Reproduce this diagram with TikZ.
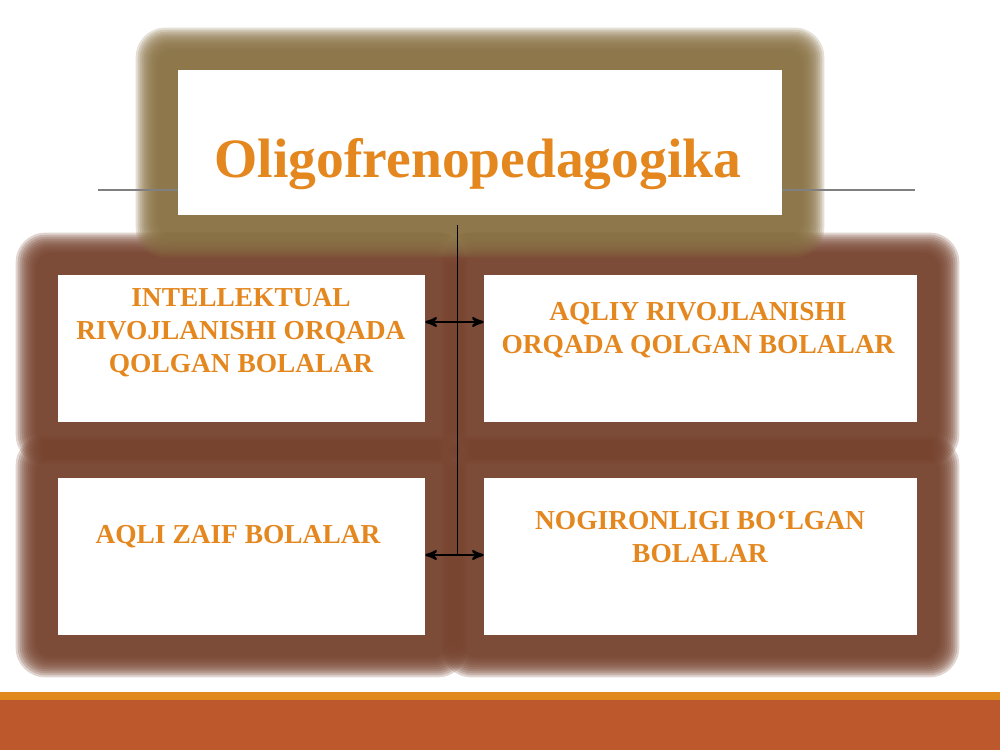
\documentclass[tikz,border=0pt]{standalone}
\usepackage{fontspec}
\setmainfont{Liberation Serif}
\usetikzlibrary{positioning, arrows, calc}

\definecolor{txtorange}{HTML}{E3871E}
\definecolor{glowolive}{HTML}{887042}
\definecolor{glowbrown}{HTML}{74402B}
\definecolor{barorange}{HTML}{E08A1E}
\definecolor{barrust}{HTML}{BD582D}
\pgfdeclarelayer{bg}
\pgfsetlayers{bg,main}

\begin{document}
\begin{tikzpicture}[x=0.02cm,y=-0.02cm,>=stealth',
    box/.style={rectangle,fill=white,inner sep=0pt},
    lbl/.style={inner sep=0pt,align=center,text=txtorange,
      font=\bfseries\fontsize{15.6}{18.7}\selectfont},
    title/.style={inner sep=0pt,text=txtorange,
      font=\bfseries\fontsize{31.6}{38}\selectfont}]

  \useasboundingbox (0,0) rectangle (1000,750);

  \node[box,minimum width=12.08cm,minimum height=2.9cm] (t) at (480,142.5) {};
  \node[box,minimum width=7.34cm,minimum height=2.94cm] (b_1) at (241.5,348.5) {};
  \node[box,minimum width=8.66cm,minimum height=2.94cm] (b_2) at (700.5,348.5) {};
  \node[box,minimum width=7.34cm,minimum height=3.14cm] (b_3) at (241.5,556.5) {};
  \node[box,minimum width=8.66cm,minimum height=3.14cm] (b_4) at (700.5,556.5) {};

  \node[title,anchor=base] (t_txt) at (478,177) {Oligofrenopedagogika};
  \node[lbl] (b_1_txt) at (241,333) {INTELLEKTUAL\\RIVOJLANISHI ORQADA\\QOLGAN BOLALAR};
  \node[lbl] (b_2_txt) at (698,330) {AQLIY RIVOJLANISHI\\ORQADA QOLGAN BOLALAR};
  \node[lbl] (b_3_txt) at (238,537) {AQLI ZAIF BOLALAR};
  \node[lbl] (b_4_txt) at (700,537) {NOGIRONLIGI BO‘LGAN\\BOLALAR};

  \coordinate (l_1) at (98,190);
  \coordinate (l_2) at (915,190);
  \coordinate (j_0) at (457,225);
  \coordinate (j_1) at (457,322);
  \coordinate (j_2) at (457,555);

  % soft shadows behind the boxes
  \begin{pgfonlayer}{bg}
    \foreach \n in {b_1,b_2,b_3,b_4}{
      \foreach \d in {42,40,...,22}
        \fill[glowbrown,fill opacity=0.22,rounded corners=\d*0.4pt]
          ($(\n.north west)+(-\d,-\d)$) rectangle ($(\n.south east)+(\d,\d)$);
    }
    \foreach \d in {42,40,...,20}
      \fill[glowolive,fill opacity=0.22,rounded corners=\d*0.4pt]
        ($(t.north west)+(-\d,-\d)$) rectangle ($(t.south east)+(\d,\d)$);
    \draw[gray,line width=0.6pt] (l_1) -- (l_2);
  \end{pgfonlayer}

  \draw[black,line width=0.5pt] (j_0) -- (j_2);
  \draw[<->,line width=1.3pt] (b_1.east |- j_1) -- (b_2.west |- j_1);
  \draw[<->,line width=1.3pt] (b_3.east |- j_2) -- (b_4.west |- j_2);

  % bottom band
  \fill[barorange] (0,692) rectangle (1000,700);
  \fill[barrust] (0,700) rectangle (1000,750);

\end{tikzpicture}
\end{document}
